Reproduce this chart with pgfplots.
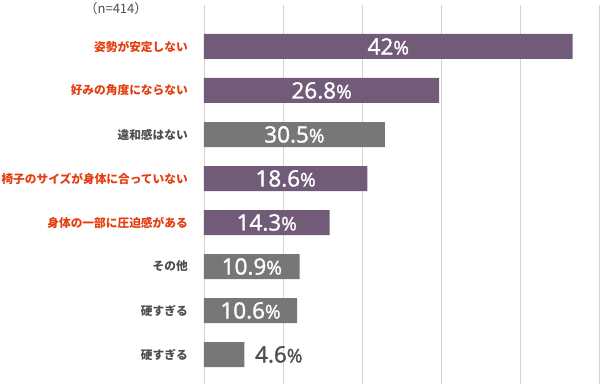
\documentclass[border=0pt]{standalone}
\usepackage{pgfplots}
\pgfplotsset{compat=1.18}
\usepackage{pgfplotstable}
\usepackage{fontspec}
\setmainfont{Open Sans}
\newfontfamily\numfont{Open Sans}[FakeBold=1.4]
\newfontfamily\jp{Noto Sans CJK JP}
\definecolor{barpurple}{HTML}{715B79}
\definecolor{bargray}{HTML}{777777}
\definecolor{labred}{HTML}{E43D10}
\definecolor{labgray}{HTML}{4D4D4D}
\definecolor{gridc}{HTML}{D6D2CE}

\pgfplotstableread{
y x
0 42
1 26.8
3 18.6
4 14.3
}\purpledata
\pgfplotstableread{
y x
2 20.6
5 10.9
6 10.6
7 4.6
}\graydata
\pgfplotstableread{
y x lab
0 21 42
1 13.4 26.8
2 10.3 30.5
3 9.3 18.6
4 7.15 14.3
5 5.45 10.9
6 5.3 10.6
}\inlabels
\pgfplotstableread{
y x lab
7 5.8 4.6
}\outlabels

\begin{document}
\begin{tikzpicture}
\useasboundingbox (0,0) rectangle (600pt,388pt);
\begin{axis}[
  at={(204pt,4pt)}, anchor=south west,
  scale only axis, width=395pt, height=379pt,
  xmin=0, xmax=45, ymin=-0.943, ymax=7.67,
  y dir=reverse,
  axis line style={draw=none},
  xtick={0,9,...,45}, xticklabels={},
  xmajorgrids, grid style={gridc, line width=0.8pt},
  ytick={0,...,7},
  yticklabels={
    {\color{labred}姿勢が安定しない},
    {\color{labred}好みの角度にならない},
    {\color{labgray}違和感はない},
    {\color{labred}椅子のサイズが身体に合っていない},
    {\color{labred}身体の一部に圧迫感がある},
    {\color{labgray}その他},
    {\color{labgray}硬すぎる},
    {\color{labgray}硬すぎる}},
  yticklabel style={anchor=east, inner sep=0pt, xshift=-16pt,
    font=\jp\bfseries\fontsize{11.7}{12}\selectfont},
  major tick length=0pt,
  clip=false,
]
\addplot[xbar, bar width=25pt, bar shift=0pt, fill=barpurple, draw=none] table[x=x,y=y]{\purpledata};
\addplot[xbar, bar width=25pt, bar shift=0pt, fill=bargray, draw=none] table[x=x,y=y]{\graydata};
\addplot[only marks, mark=none, point meta=explicit symbolic,
  nodes near coords={\pgfplotspointmeta{\fontsize{19}{19}\selectfont\%}},
  nodes near coords style={anchor=center, inner sep=0pt, text=white,
    font=\numfont\fontsize{22.5}{22.5}\selectfont}]
  table[x=x,y=y,meta=lab]{\inlabels};
\addplot[only marks, mark=none, point meta=explicit symbolic,
  nodes near coords={\pgfplotspointmeta{\fontsize{19}{19}\selectfont\%}},
  nodes near coords style={anchor=west, inner sep=0pt, text=labgray,
    font=\numfont\fontsize{22.5}{22.5}\selectfont}]
  table[x=x,y=y,meta=lab]{\outlabels};
\end{axis}
\node[font=\jp\fontsize{13}{14}\selectfont, text=labgray] at (116pt,379pt) {（n=414）};
\end{tikzpicture}
\end{document}
